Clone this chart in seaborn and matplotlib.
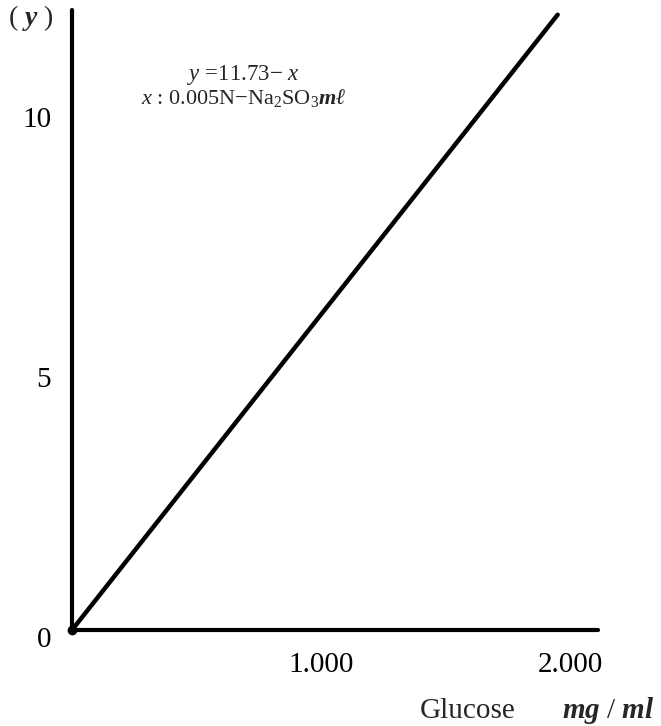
import matplotlib
matplotlib.use("Agg")
import matplotlib.pyplot as plt
from matplotlib.transforms import ScaledTranslation
import seaborn as sns
import pandas as pd

# Data
glucose = [0.0, 1.95]
y_value = [0.0, 11.83]
x_ticks = [1.0, 2.0]
x_tick_labels = ["1.000", "2.000"]
y_ticks = [0, 5, 10]
y_tick_labels = ["0", "5", "10"]

sns.set_theme(style="white")
plt.rcParams['font.family'] = ['Liberation Serif', 'DejaVu Serif']
plt.rcParams['mathtext.fontset'] = 'custom'
plt.rcParams['mathtext.rm'] = 'Liberation Serif'
plt.rcParams['mathtext.it'] = 'Liberation Serif:italic'
plt.rcParams['mathtext.bf'] = 'Liberation Serif:bold'
plt.rcParams['mathtext.bfit'] = 'Liberation Serif:bold:italic'

W, H = 661, 726
fig = plt.figure(figsize=(W / 100, H / 100), dpi=100)
ax = fig.add_axes([72 / W, 96 / H, 526 / W, 620 / H])

df = pd.DataFrame({"glucose": glucose, "y": y_value})
sns.lineplot(data=df, x="glucose", y="y", ax=ax, color="black", lw=3.2,
             solid_capstyle="round", clip_on=False)
ax.plot([glucose[0]], [y_value[0]], 'o', color='black', ms=6, clip_on=False, zorder=5)

ax.set_xlim(0, 2.112)
ax.set_ylim(0, 11.92)
ax.set_xlabel("")
ax.set_ylabel("")

for side in ["top", "right"]:
    ax.spines[side].set_visible(False)
for side in ["left", "bottom"]:
    ax.spines[side].set_visible(True)
    ax.spines[side].set_color("black")
    ax.spines[side].set_linewidth(3)
    ax.spines[side].set_capstyle("round")

ax.set_xticks(x_ticks)
ax.set_xticklabels(x_tick_labels, fontsize=21)
ax.set_yticks(y_ticks)
ax.set_yticklabels(y_tick_labels, fontsize=21)
ax.tick_params(axis="x", length=0, pad=16, colors="black")
ax.tick_params(axis="y", length=0, pad=15, colors="black")
for lab in ax.get_yticklabels():
    lab.set_transform(lab.get_transform() + ScaledTranslation(0, -7 / 100, fig.dpi_scale_trans))

fig.text(31 / W, 1 - 18 / H, r"( $\mathbfit{y}$ )", ha="center", va="center", fontsize=20)
fig.text(243 / W, 1 - 75 / H, r"$y$ =11.73$-$ $x$", ha="center", va="center", fontsize=16.5)
fig.text(244 / W, 1 - 98 / H, r"$x$ : 0.005N$-$Na$_2$SO$_3$$\mathbfit{m\ell}$",
         ha="center", va="center", fontsize=16)
fig.text(420 / W, 1 - 718 / H, "Glucose", ha="left", va="baseline", fontsize=21)
fig.text(655 / W, 1 - 718 / H, r"$\mathbfit{mg}$ / $\mathbfit{ml}$",
         ha="right", va="baseline", fontsize=21)

fig.savefig("out.png", dpi=100, facecolor="white")
